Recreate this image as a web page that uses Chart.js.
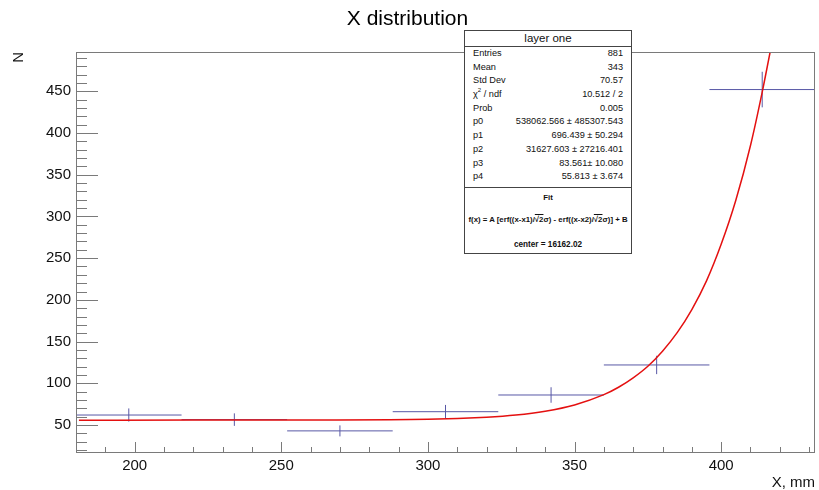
<!DOCTYPE html>
<html>
<head>
<meta charset="utf-8">
<script src="https://cdn.jsdelivr.net/npm/chart.js@4.4.1/dist/chart.umd.min.js"></script>
<style>
  body { margin: 0; background: #fff; }
  #wrap { position: relative; width: 819px; height: 490px; font-family: "Liberation Sans", Arial, sans-serif; }
  #stats { position: absolute; left: 464px; top: 30px; width: 166px; height: 222px;
           border: 1px solid #444; background: #fff; color: #111; }
  #stats .hdr { height: 15px; line-height: 15px; text-align: center; font-size: 11.5px; border-bottom: 1px solid #444; }
  #stats .rows { position: absolute; top: 16px; left: 8px; right: 8px; }
  #stats .r { display: flex; justify-content: space-between; height: 13.7px; line-height: 13.7px; font-size: 9.2px; }
  #stats sup { font-size: 6px; line-height: 0; position: relative; top: -1px; vertical-align: super; }
  #stats .fit { position: absolute; left: 0; right: 0; top: 156px; bottom: 0; border-top: 1px solid #444;
                font-weight: bold; font-size: 7.8px; text-align: center; }
  #stats .fit div { position: absolute; left: 0; right: 0; white-space: nowrap; }
  .ov { text-decoration: overline; }
</style>
</head>
<body>
<div id="wrap">
  <canvas id="myChart" width="819" height="490"></canvas>
  <div id="stats">
    <div class="hdr">layer one</div>
    <div class="rows" id="rows"></div>
    <div class="fit">
      <div style="top:5px">Fit</div>
      <div style="top:27px">f(x) = A [erf((x-x1)/<span class="ov">√2</span>σ) - erf((x-x2)/<span class="ov">√2</span>σ)] + B</div>
      <div style="top:52px;font-size:8.2px">center = 16162.02</div>
    </div>
  </div>
</div>
<script>
// histogram bins
var binCenters = [198, 234, 270, 306, 342, 378, 414];
var binCounts = [62, 56.5, 43, 66, 86, 122, 452];
var binErrors = [7.9, 7.5, 6.6, 8.1, 9.3, 11, 21.3];
var binWidth = 36;

// fitted curve, sampled from the red line
var fitX = [181, 220, 260, 300, 320, 330, 340, 350, 360, 365, 370, 375, 380, 385, 390, 395, 400, 405, 410, 414, 416.7];
var fitY = [55.8, 55.9, 56.1, 56.9, 59.4, 62, 66.6, 74.1, 86.4, 95.3, 106.6, 120.5, 138.5, 160.7, 188.4, 222.7, 266.5, 319.3, 385, 449, 497];

var xTickLabels = [200, 250, 300, 350, 400];
var yTickLabels = [50, 100, 150, 200, 250, 300, 350, 400, 450];

var statLabels = ['Entries', 'Mean', 'Std Dev', 'χ<sup>2</sup> / ndf', 'Prob', 'p0', 'p1', 'p2', 'p3', 'p4'];
var statValues = ['881', '343', '70.57', '10.512 / 2', '0.005', '538062.566 ± 485307.543',
                  '696.439 ± 50.294', '31627.603 ± 27216.401', '83.561± 10.080', '55.813 ± 3.674'];

var rows = document.getElementById('rows');
statLabels.forEach(function (l, i) {
    var d = document.createElement('div');
    d.className = 'r';
    d.innerHTML = '<span>' + l + '</span><span>' + statValues[i] + '</span>';
    rows.appendChild(d);
});

var histLines = [], errLines = [], fitPts = [];
binCenters.forEach(function (c, i) {
    histLines.push({x: c - binWidth / 2, y: binCounts[i]}, {x: c + binWidth / 2, y: binCounts[i]}, {x: c + binWidth / 2, y: null});
    errLines.push({x: c, y: binCounts[i] - binErrors[i]}, {x: c, y: binCounts[i] + binErrors[i]}, {x: c, y: null});
});
fitX.forEach(function (x, i) { fitPts.push({x: x, y: fitY[i]}); });

// ROOT style frame with inner ticks
var rootFrame = {
    id: 'rootFrame',
    afterDraw: function (chart) {
        var ctx = chart.ctx, a = chart.chartArea, x = chart.scales.x, y = chart.scales.y;
        ctx.save();
        ctx.strokeStyle = '#7a7a7a';
        ctx.lineWidth = 1;
        ctx.strokeRect(a.left + 0.5, a.top + 0.5, a.right - a.left - 1, a.bottom - a.top - 1);
        ctx.beginPath();
        for (var v = 20; v <= y.max; v += 10) {
            var py = Math.round(y.getPixelForValue(v)) + 0.5;
            var len = v % 50 === 0 ? 22 : 11;
            ctx.moveTo(a.left, py);
            ctx.lineTo(a.left + len, py);
        }
        for (var u = 190; u <= x.max; u += 10) {
            var px = Math.round(x.getPixelForValue(u)) + 0.5;
            var l2 = u % 50 === 0 ? 11 : 6;
            ctx.moveTo(px, a.bottom);
            ctx.lineTo(px, a.bottom - l2);
        }
        ctx.stroke();
        ctx.restore();
    }
};

Chart.defaults.font.family = '"Liberation Sans", Arial, sans-serif';
Chart.defaults.color = '#111';

new Chart('myChart', {
    type: 'line',
    data: {
        datasets: [{
            data: fitPts,
            borderColor: '#e41010',
            borderWidth: 1.5,
            pointRadius: 0,
            cubicInterpolationMode: 'monotone'
        }, {
            data: histLines,
            borderColor: '#5858a6',
            borderWidth: 1,
            pointRadius: 0,
            spanGaps: false
        }, {
            data: errLines,
            borderColor: '#5858a6',
            borderWidth: 1,
            pointRadius: 0,
            spanGaps: false
        }]
    },
    options: {
        responsive: false,
        animation: false,
        layout: {padding: {top: 0, right: 4, bottom: 0, left: 0}},
        plugins: {
            legend: {display: false},
            tooltip: {enabled: false},
            title: {
                display: true,
                text: 'X distribution',
                color: '#000',
                font: {size: 21, weight: 'normal', lineHeight: 1.2},
                padding: {top: 6.4, bottom: 20.4}
            }
        },
        scales: {
            x: {
                type: 'linear',
                min: 180,
                max: 432,
                grid: {display: false, drawTicks: false},
                border: {display: false},
                afterBuildTicks: function (s) { s.ticks = xTickLabels.map(function (v) { return {value: v}; }); },
                afterFit: function (s) { s.height = 37; },
                ticks: {font: {size: 15}, padding: 4, maxRotation: 0},
                title: {display: true, text: 'X, mm', align: 'end', font: {size: 15, lineHeight: 1}, padding: 0}
            },
            y: {
                min: 16.5,
                max: 497,
                grid: {display: false, drawTicks: false},
                border: {display: false},
                afterBuildTicks: function (s) { s.ticks = yTickLabels.map(function (v) { return {value: v}; }); },
                afterFit: function (s) { s.width = 76; },
                ticks: {font: {size: 15}, padding: 5},
                title: {display: true, text: 'N', align: 'end', font: {size: 15}, padding: {top: 10, bottom: 0}}
            }
        }
    },
    plugins: [rootFrame]
});
</script>
</body>
</html>
